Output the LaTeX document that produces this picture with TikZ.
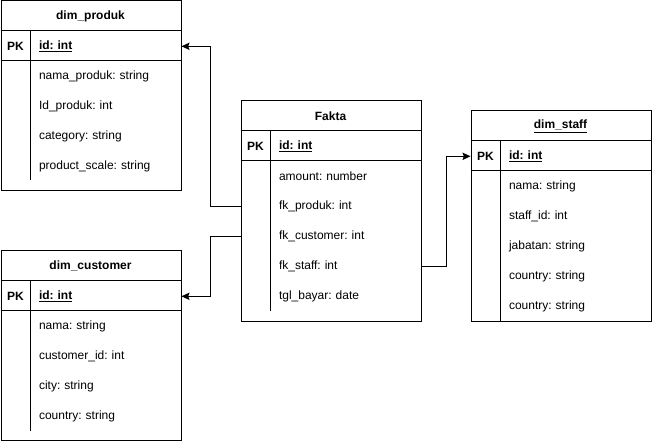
\documentclass[tikz,border=0pt]{standalone}
\usepackage{fontspec}
\setmainfont{Liberation Sans}
\usetikzlibrary{arrows.meta}
\frenchspacing
\begin{document}
\begin{tikzpicture}[x=0.75pt,y=-0.75pt,line width=0.75pt,
  every node/.style={font=\fontsize{9}{11}\selectfont},
  tbl/.style={draw,anchor=north west,inner sep=0pt,minimum width=135pt},
  hdr/.style={font=\fontsize{9}{11}\selectfont\bfseries,anchor=center,inner sep=0pt,yshift=-0.6pt},
  pk/.style={font=\fontsize{9}{11}\selectfont\bfseries,anchor=center,inner sep=0pt,yshift=-0.6pt},
  rowtxt/.style={anchor=west,inner xsep=6pt,inner ysep=0pt,text width=100.5pt,align=left,minimum height=22.5pt,yshift=-0.6pt},
  conn/.style={draw,line width=0.75pt,-{Stealth[length=6pt,width=5.5pt,inset=1pt]}}]
\useasboundingbox (0,0) rectangle (663,441);

% ---------- dim_produk ----------
\node[tbl,minimum height=142.5pt] (prod) at (0.5,0.5) {};
\node[hdr] (prodh) at (90.5,15.5) {dim\_produk};
\draw (0.5,30.5) -- (180.5,30.5);
\draw (0.5,60.5) -- (180.5,60.5);
\draw (30.5,30.5) -- (30.5,180.5);
\node[pk] (prodpkl) at (15.5,45.5) {PK};
\node[rowtxt,font=\fontsize{9}{11}\selectfont\bfseries] (prodpk) at (30.5,45.5) {\underline{id: int}};
\node[rowtxt] (prod1) at (30.5,75.5) {nama\_produk: string};
\node[rowtxt] (prod2) at (30.5,105.5) {Id\_produk: int};
\node[rowtxt] (prod3) at (30.5,135.5) {category: string};
\node[rowtxt] (prod4) at (30.5,165.5) {product\_scale: string};

% ---------- dim_customer ----------
\node[tbl,minimum height=141.75pt] (cust) at (0.5,250.5) {};
\node[hdr] (custh) at (90.5,265.5) {dim\_customer};
\draw (0.5,280.5) -- (180.5,280.5);
\draw (0.5,310.5) -- (180.5,310.5);
\draw (30.5,280.5) -- (30.5,430.5);
\node[pk] (custpkl) at (15.5,295.5) {PK};
\node[rowtxt,font=\fontsize{9}{11}\selectfont\bfseries] (custpk) at (30.5,295.5) {\underline{id: int}};
\node[rowtxt] (cust1) at (30.5,325.5) {nama: string};
\node[rowtxt] (cust2) at (30.5,355.5) {customer\_id: int};
\node[rowtxt] (cust3) at (30.5,385.5) {city: string};
\node[rowtxt] (cust4) at (30.5,415.5) {country: string};

% ---------- Fakta ----------
\node[tbl,minimum height=165pt] (fakta) at (240.5,100.5) {};
\node[hdr] (faktah) at (330.5,115.5) {Fakta};
\draw (240.5,130.5) -- (420.5,130.5);
\draw (240.5,160.5) -- (420.5,160.5);
\draw (270.5,130.5) -- (270.5,310.5);
\node[pk] (faktapkl) at (255.5,145.5) {PK};
\node[rowtxt,font=\fontsize{9}{11}\selectfont\bfseries] (faktapk) at (270.5,145.5) {\underline{id: int}};
\node[rowtxt] (famount) at (270.5,175.5) {amount: number};
\node[rowtxt] (fprod) at (270.5,205.5) {fk\_produk: int};
\node[rowtxt] (fcust) at (270.5,235.5) {fk\_customer: int};
\node[rowtxt] (fstaff) at (270.5,265.5) {fk\_staff: int};
\node[rowtxt] (ftgl) at (270.5,295.5) {tgl\_bayar: date};

% ---------- dim_staff ----------
\node[tbl,minimum height=157.5pt] (staff) at (470.5,110.5) {};
\node[hdr] (staffh) at (560.5,125.5) {\underline{dim\_staff}};
\draw (470.5,140.5) -- (650.5,140.5);
\draw (470.5,170.5) -- (650.5,170.5);
\draw (500.5,140.5) -- (500.5,320.5);
\node[pk] (staffpkl) at (485.5,155.5) {PK};
\node[rowtxt,font=\fontsize{9}{11}\selectfont\bfseries] (staffpk) at (500.5,155.5) {\underline{id: int}};
\node[rowtxt] (staff1) at (500.5,185.5) {nama: string};
\node[rowtxt] (staff2) at (500.5,215.5) {staff\_id: int};
\node[rowtxt] (staff3) at (500.5,245.5) {jabatan: string};
\node[rowtxt] (staff4) at (500.5,275.5) {country: string};
\node[rowtxt] (staff5) at (500.5,305.5) {country: string};

% ---------- connectors ----------
\draw[conn] (fakta.west |- fprod) -- ++(-30,0) |- (prod.east |- prodpk);
\draw[conn] (fakta.west |- fcust) -- ++(-30,0) |- (cust.east |- custpk);
\draw[conn] (fakta.east |- fstaff) -- ++(25,0) |- (staff.west |- staffpk);
\end{tikzpicture}
\end{document}
